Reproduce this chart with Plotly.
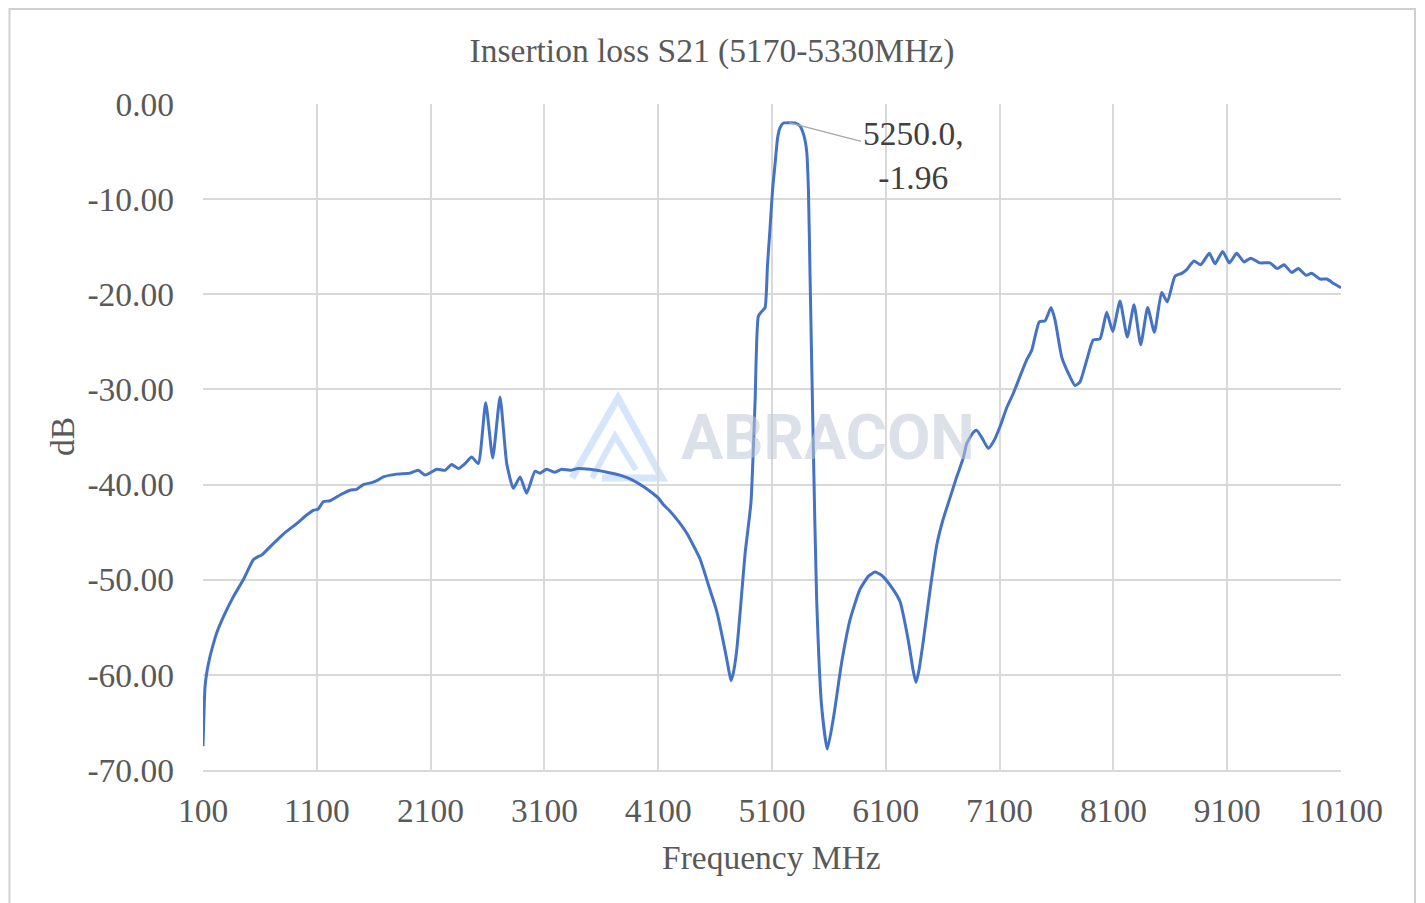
import plotly.graph_objects as go

# ---- data ----
freq_mhz = [100, 110, 118, 140, 161, 190, 220, 279, 366, 454, 542, 580, 616, 718, 806, 923,
            1011, 1069, 1110, 1157, 1216, 1304, 1392, 1450, 1509, 1582, 1640, 1684, 1802, 1919,
            1992, 2051, 2154, 2227, 2285, 2344, 2402, 2461, 2519, 2584, 2646, 2710, 2769, 2827,
            2886, 2944, 3017, 3061, 3120, 3193, 3252, 3325, 3400, 3501, 3560, 3650, 3764, 3870,
            3969, 4028, 4100, 4145, 4204, 4280, 4350, 4467, 4540, 4614, 4687, 4720, 4740, 4760,
            4790, 4830, 4863, 4915, 4951, 4980, 5010, 5039, 5060, 5082, 5105, 5126, 5150, 5170,
            5200, 5250, 5300, 5346, 5380, 5405, 5420, 5434, 5463, 5492, 5536, 5586, 5639, 5712,
            5786, 5873, 5950, 6005, 6060, 6108, 6180, 6225, 6298, 6340, 6365, 6390, 6430, 6490,
            6547, 6600, 6664, 6720, 6781, 6811, 6870, 6899, 6950, 7001, 7050, 7104, 7160, 7221,
            7280, 7338, 7382, 7449, 7499, 7552, 7587, 7646, 7704, 7763, 7807, 7866, 7923, 7982,
            8041, 8094, 8158, 8222, 8281, 8340, 8401, 8460, 8524, 8574, 8641, 8700, 8744, 8808,
            8867, 8943, 8993, 9060, 9119, 9183, 9248, 9306, 9388, 9476, 9540, 9599, 9667, 9725,
            9792, 9842, 9916, 9974, 10040, 10100]
s21_db = [-67.5, -63.5, -61.2, -59.3, -58.1, -56.8, -55.6, -53.9, -51.8, -50.0, -47.9, -47.6,
          -47.4, -46.2, -45.2, -44.1, -43.2, -42.7, -42.6, -41.8, -41.7, -41.1, -40.6, -40.5,
          -40.0, -39.8, -39.5, -39.2, -38.9, -38.8, -38.5, -39.0, -38.4, -38.5, -37.9, -38.3,
          -37.8, -37.1, -37.8, -31.4, -37.2, -30.8, -37.8, -40.4, -39.2, -40.9, -38.6, -38.8,
          -38.4, -38.7, -38.4, -38.5, -38.3, -38.4, -38.5, -38.7, -39.0, -39.5, -40.2, -40.7,
          -41.4, -42.1, -42.8, -43.9, -45.1, -47.8, -50.5, -53.3, -57.4, -59.5, -60.6, -59.8,
          -57.4, -52.0, -47.3, -41.9, -31.4, -22.3, -21.8, -21.4, -17.0, -13.2, -9.0, -6.4,
          -3.5, -2.5, -2.0, -1.96, -2.0, -2.3, -3.3, -5.0, -9.0, -17.8, -36.0, -51.9, -63.3,
          -67.8, -64.6, -58.7, -54.2, -51.0, -49.6, -49.2, -49.5, -50.1, -51.3, -52.3, -56.4,
          -59.5, -60.8, -59.6, -56.4, -51.0, -46.4, -43.8, -41.4, -39.3, -37.2, -35.7, -34.5,
          -34.3, -35.2, -36.2, -35.4, -33.9, -32.0, -30.4, -28.6, -26.9, -25.9, -22.9, -22.8,
          -21.4, -22.7, -26.6, -28.3, -29.6, -29.2, -26.9, -24.8, -24.7, -21.9, -23.9, -20.7,
          -24.5, -21.1, -25.3, -21.4, -24.0, -19.8, -20.8, -18.1, -17.8, -17.4, -16.5, -16.9,
          -15.7, -16.8, -15.5, -16.7, -15.7, -16.6, -16.2, -16.7, -16.7, -17.3, -16.9, -17.7,
          -17.3, -18.0, -17.8, -18.4, -18.4, -18.9, -19.3]

x_ticks = [100, 1100, 2100, 3100, 4100, 5100, 6100, 7100, 8100, 9100, 10100]
y_ticks = [0, -10, -20, -30, -40, -50, -60, -70]

marker_freq = 5250.0
marker_db = -1.96

title_text = "Insertion loss S21 (5170-5330MHz)"
x_title = "Frequency MHz"
y_title = "dB"

# ---- layout geometry (page coordinates; the page body adds an 8px offset) ----
OFF = 8
W, H = 1425, 903
L, R, T, B = 203 - OFF, 1341 - OFF, 104 - OFF, 770 - OFF
FONT = "Liberation Serif, Times New Roman, serif"
FS = 33.5
TXT = "#595959"
GRID = "#D9D9D9"


def px_to_paper(px, py):
    # px, py given in screenshot coordinates
    px -= OFF
    py -= OFF
    return (px - L) / (R - L), (B - py) / (B - T)


fig = go.Figure()
fig.add_trace(go.Scatter(
    x=freq_mhz, y=s21_db, mode="lines",
    line=dict(color="#4472C4", width=3, shape="spline", smoothing=0.5),
    hoverinfo="x+y", showlegend=False,
))

shapes = []
# outer chart border
x0, y0 = px_to_paper(9.5, 9)
x1, y1 = px_to_paper(1415, 915)
shapes.append(dict(type="rect", xref="paper", yref="paper", x0=x0, y0=y1, x1=x1, y1=y0,
                   line=dict(color="#D0D0D0", width=2), layer="below"))


# watermark logo (decoration)
def path_from(points):
    s = ""
    for i, (a, b) in enumerate(points):
        u, v = px_to_paper(a, b)
        s += ("M" if i == 0 else "L") + f" {u:.5f},{v:.5f} "
    return s


logo_col = "rgba(200,222,248,0.75)"
shapes.append(dict(type="path", xref="paper", yref="paper",
                   path=path_from([(572, 478), (618, 398), (662, 478), (602, 478)]),
                   line=dict(color=logo_col, width=7), layer="below"))
shapes.append(dict(type="path", xref="paper", yref="paper",
                   path=path_from([(592, 478), (615, 436), (636, 470)]),
                   line=dict(color=logo_col, width=6), layer="below"))

ax_px = 913 - (203 + (marker_freq - 100) / 10000 * (1341 - 203))
ay_px = 155 - (104 + (-marker_db) / 70 * (770 - 104))

fig.update_layout(
    width=W, height=H,
    margin=dict(l=L, r=W - R, t=T, b=H - B),
    paper_bgcolor="white", plot_bgcolor="white",
    font=dict(family=FONT, color=TXT, size=FS),
    title=dict(text=title_text, xref="container", x=(712 - OFF) / W, xanchor="center",
               yref="container", y=1 - (50 - OFF) / H, yanchor="middle",
               font=dict(family=FONT, size=FS, color=TXT)),
    xaxis=dict(range=[100, 10100], tickmode="array", tickvals=x_ticks,
               ticktext=[str(v) for v in x_ticks],
               showgrid=True, gridcolor=GRID, gridwidth=1.5,
               showline=True, linecolor=GRID, linewidth=1.5, mirror=False,
               zeroline=False, ticks="", ticklabelstandoff=10,
               tickfont=dict(family=FONT, size=FS, color=TXT), fixedrange=True),
    yaxis=dict(range=[-70, 0], tickmode="array", tickvals=y_ticks,
               ticktext=[f"{v:.2f}" if v != 0 else "0.00" for v in y_ticks],
               showgrid=True, gridcolor=GRID, gridwidth=1.5,
               showline=False, zeroline=False, ticks="", ticklabelstandoff=28,
               tickfont=dict(family=FONT, size=FS, color=TXT), fixedrange=True),
    shapes=shapes,
    annotations=[
        dict(text="ABRACON", xref="paper", yref="paper",
             x=px_to_paper(828, 437)[0], y=px_to_paper(828, 437)[1],
             xanchor="center", yanchor="middle", showarrow=False,
             font=dict(family="Roboto, Open Sans, sans-serif", size=63,
                       color="rgba(190,199,215,0.55)", weight="bold")),
        dict(text=f"{marker_freq:.1f},<br>{marker_db:.2f}", x=marker_freq, y=marker_db,
             xref="x", yref="y", showarrow=True, arrowhead=0, arrowwidth=1.2,
             arrowcolor="#A6A6A6", ax=ax_px, ay=ay_px, align="center",
             font=dict(family=FONT, size=FS, color="#404040")),
        dict(text=x_title, xref="paper", yref="paper",
             x=px_to_paper(771, 858)[0], y=px_to_paper(771, 858)[1],
             xanchor="center", yanchor="middle", showarrow=False,
             font=dict(family=FONT, size=FS, color=TXT)),
        dict(text=y_title, xref="paper", yref="paper",
             x=px_to_paper(62, 437)[0], y=px_to_paper(62, 437)[1],
             xanchor="center", yanchor="middle", showarrow=False, textangle=-90,
             font=dict(family=FONT, size=FS, color=TXT)),
    ],
)

fig.write_html("out.html")
